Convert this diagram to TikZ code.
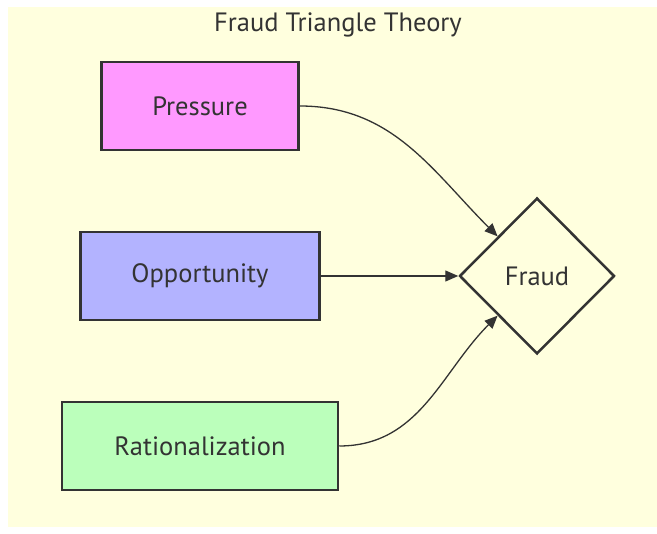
\documentclass[tikz,border=0pt]{standalone}
\usepackage{fontspec}
\setmainfont{PT Sans}
\usetikzlibrary{shapes.geometric,arrows.meta}
\definecolor{clusterbg}{HTML}{FFFFDE}
\definecolor{pinkfill}{HTML}{FF99FF}
\definecolor{bluefill}{HTML}{B3B3FF}
\definecolor{greenfill}{HTML}{BBFFBB}
\definecolor{inkgray}{HTML}{333333}

\begin{document}
\begin{tikzpicture}[x=1pt,y=-1pt,
  factor/.style={draw=inkgray,line width=2.5,minimum height=88,font=\fontsize{26.5}{31}\selectfont,text=inkgray},
  edge/.style={draw=inkgray,line width=1.3,-{Triangle[length=13pt,width=11pt]}}]

\useasboundingbox (0,0) rectangle (657,534);
\fill [fill=clusterbg] (8,7) rectangle (657,527);

\node [font=\fontsize{26.5}{31}\selectfont,text=inkgray] (title) at (338,25) {Fraud Triangle Theory};

\node [factor,fill=pinkfill,minimum width=197] (pressure) at (200,106) {Pressure};
\node [factor,fill=bluefill,minimum width=239] (opportunity) at (200,276) {Opportunity};
\node [factor,fill=greenfill,minimum width=276] (rational) at (200,446) {Rationalization};

\node [diamond,draw=inkgray,line width=2.5,minimum width=155,minimum height=156,inner sep=0,font=\fontsize{26.5}{31}\selectfont,text=inkgray] (fraud) at (537,276) {Fraud};

\draw [edge] (pressure.east) to[out=0,in=135] (fraud.north west);
\draw [edge] (opportunity.east) -- (fraud.west);
\draw [edge] (rational.east) to[out=0,in=-135] (fraud.south west);

\end{tikzpicture}
\end{document}
